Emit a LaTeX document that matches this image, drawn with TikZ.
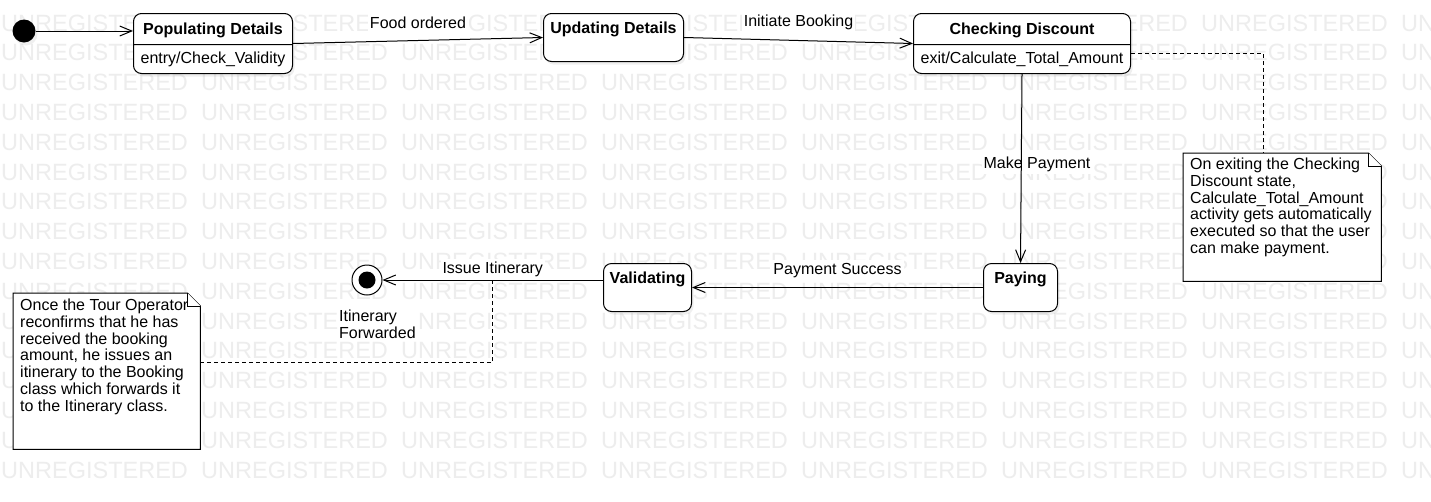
\documentclass[tikz,border=0pt]{standalone}
\usepackage{fontspec}
\setmainfont{Liberation Sans}
\usetikzlibrary{arrows.meta,shapes.multipart,shadows}

% struts fixing the compartment heights
\newcommand\titlestrut{\rule[-10pt]{0pt}{30pt}}
\newcommand\entrystrut{\rule[-9.3pt]{0pt}{28pt}}
\newcommand\boxstrut{\rule[-28pt]{0pt}{48pt}}
\newcommand\notecorner[1]{%
  \filldraw[noteframe] (#1.north west) -- ([xshift=-13pt]#1.north east)
    -- ([yshift=-13pt]#1.north east) -- (#1.south east) -- (#1.south west) -- cycle;
  \draw[noteframe] ([xshift=-13pt]#1.north east) |- ([yshift=-13pt]#1.north east);}

\tikzset{
  wmark/.style={text=black!7, font=\fontsize{23.5pt}{24pt}\selectfont, inner sep=0pt, anchor=base west},
  statebox/.style={draw, fill=white, line width=1pt, rounded corners=8pt, inner xsep=4pt, inner ysep=0pt,
    font=\bfseries\fontsize{16pt}{16.7pt}\selectfont, anchor=north west,
    drop shadow={shadow xshift=2pt, shadow yshift=-3pt, opacity=.12}},
  splitstate/.style={statebox, rectangle split, rectangle split parts=2},
  initstate/.style={circle, fill=black, minimum size=23pt, inner sep=0pt,
    drop shadow={shadow xshift=2pt, shadow yshift=-3pt, opacity=.12}},
  finalstate/.style={circle, draw, fill=white, line width=1pt, minimum size=30pt, inner sep=0pt,
    path picture={\fill[black] (path picture bounding box.center) circle (8.5pt);}},
  trans/.style={-{Straight Barb[length=12pt,width=10pt]}, line width=1pt},
  trlabel/.style={fill=white, inner sep=2pt, text height=12pt, text depth=4pt, font=\fontsize{16pt}{16.7pt}\selectfont},
  noteline/.style={dash pattern=on 4pt off 3pt, line width=1pt},
  notebox/.style={inner sep=0pt, anchor=north west},
  noteframe/.style={line width=1pt, fill=white},
  notetext/.style={align=left, inner sep=0pt, anchor=north west, font=\fontsize{16pt}{16.7pt}\selectfont},
}

\begin{document}
\begin{tikzpicture}[x=1pt, y=-1pt]
  \fill[white] (0,0) rectangle (1431,501);
  \useasboundingbox (0,0) rectangle (1431,501);

  % watermark
  \foreach \r in {0,...,15}
    \foreach \c in {0,...,7}
      \node[wmark] (wm-\r-\c) at (200*\c+1, 31+29.8*\r) {UNREGISTERED};

  % states
  \node[initstate] (ini) at (24,31) {};
  \node[splitstate, minimum width=159pt] (pop) at (133,13)
    {\titlestrut Populating Details \nodepart{two}\mdseries\entrystrut entry/Check\_Validity};
  \node[statebox, minimum width=140pt] (upd) at (543,13) {\boxstrut Updating Details};
  \node[splitstate, minimum width=217pt] (chk) at (913,13)
    {\titlestrut Checking Discount \nodepart{two}\mdseries\entrystrut exit/Calculate\_Total\_Amount};
  \node[statebox, minimum width=74pt] (pay) at (983,263) {\boxstrut Paying};
  \node[statebox, minimum width=88pt] (val) at (603,263) {\boxstrut Validating};
  \node[finalstate] (fin) at (367,280) {};
  \node[notetext, fill=white, inner sep=1pt] (finlbl) at (338,309) {Itinerary\\Forwarded};

  % transitions
  \node[trlabel] (paylbl) at (1037,164) {Make Payment};
  \path[trans]
    (ini) edge (ini -| pop.west)
    (pop.east) edge node[trlabel, above=6pt] {Food ordered} (upd.west)
    (upd.east) edge node[trlabel, above=8pt] {Initiate Booking} (chk.west)
    (chk.south) edge (pay.north)
    (pay.west) edge node[trlabel, above=7pt] {Payment Success} (val.east)
    (val.west |- fin) edge node[trlabel, above=0.5pt] {Issue Itinerary}
      node[coordinate, midway] (iss) {} (fin);

  % notes
  \node[notebox, minimum width=198pt, minimum height=128pt] (note1) at (1183,153) {};
  \node[notebox, minimum width=187pt, minimum height=156pt] (note2) at (13,293) {};
  \draw[noteline] ([yshift=-10pt]chk.east) -| ([xshift=-19pt]note1.north);
  \draw[noteline] ([yshift=9pt]note2.east) -| (iss);
  \notecorner{note1}
  \notecorner{note2}
  \node[notetext] (note1txt) at (1190,158) {On exiting the Checking\\Discount state,\\Calculate\_Total\_Amount\\activity gets automatically\\executed so that the user\\can make payment.};
  \node[notetext] (note2txt) at (20,299) {Once the Tour Operator\\reconfirms that he has\\received the booking\\amount, he issues an\\itinerary to the Booking\\class which forwards it\\to the Itinerary class.};
\end{tikzpicture}
\end{document}
